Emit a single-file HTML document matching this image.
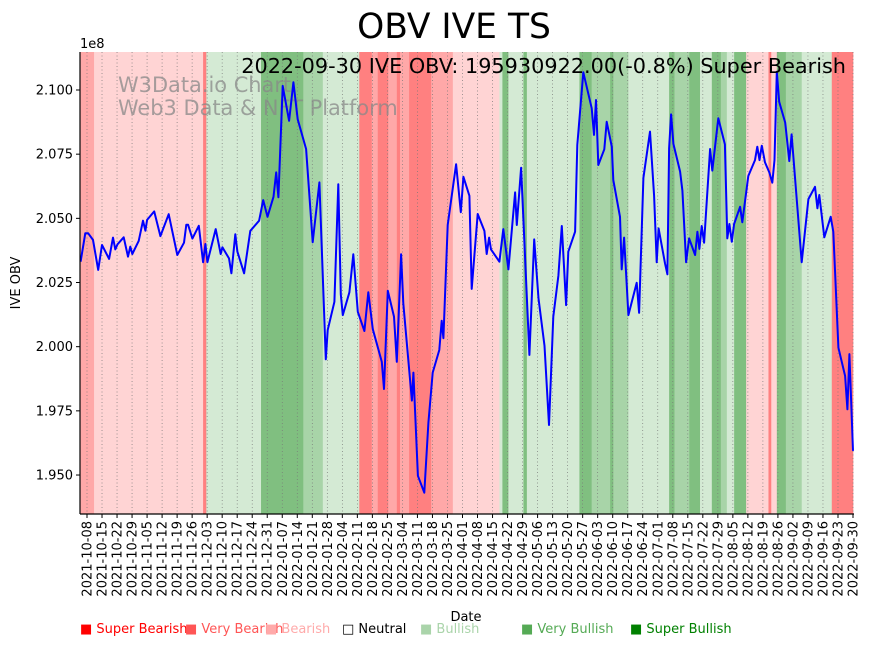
<!DOCTYPE html>
<html><head><meta charset="utf-8"><style>
body{margin:0;background:#fff;}
svg{display:block;font-family:"DejaVu Sans","Liberation Sans",sans-serif;}
</style></head><body>
<svg id="c" width="870" height="646" xmlns="http://www.w3.org/2000/svg">
<text x="454" y="38" font-size="34.5" text-anchor="middle">OBV IVE TS</text>
<g id="bands"></g>
<g id="grid"></g>
<text x="118" y="92" font-size="20.9" fill="#888" fill-opacity="0.75">W3Data.io Chart</text>
<text x="118" y="115" font-size="20.9" fill="#888" fill-opacity="0.75">Web3 Data &amp; NFT Platform</text>
<g id="line"></g>
<text x="846" y="73" font-size="20.8" text-anchor="end">2022-09-30 IVE OBV: 195930922.00(-0.8%) Super Bearish</text>
<g id="axes"></g>
<text x="80" y="48" font-size="13">1e8</text>
<text transform="translate(20,283) rotate(-90)" font-size="13" text-anchor="middle">IVE OBV</text>
<text x="466" y="621" font-size="13" text-anchor="middle">Date</text>
<g id="legend" font-size="13"></g>
</svg>
<script>
const startDate = Date.UTC(2021,9,5);
const days = [0,2.2,3.5,5.8,8.2,10.0,13.3,15.1,16.2,17.2,20.1,22.1,23.2,24.1,27.1,29.1,30.2,31.0,34.3,37.2,41.1,45.1,48.2,49.3,50.1,52.1,55.1,57.1,58.2,59.1,63.0,65.3,66.1,69.2,70.3,72.1,73.1,76.2,79.1,83.2,85.1,87.1,89.9,91.2,92.2,94.2,97.2,99.2,101.2,105.1,108.2,111.3,114.3,115.2,118.3,120.1,121.3,122.2,125.3,127.1,129.2,132.3,134.1,136.2,140.4,141.4,143.2,146.1,147.4,149.4,150.4,154.4,155.1,157.2,160.2,162.1,164.1,167.2,168.3,169.1,171.1,175.0,177.2,178.4,181.2,182.3,185.1,188.2,189.3,190.4,191.3,195.2,197.0,199.4,202.5,203.3,205.3,209.2,211.4,213.4,216.2,218.3,220.3,222.7,224.3,226.3,227.3,230.5,231.5,234.3,238.2,239.3,240.2,241.3,244.1,245.2,247.6,248.3,251.4,252.2,253.3,255.3,259.2,260.3,262.3,265.4,267.3,268.5,269.4,272.4,273.5,274.3,275.2,276.3,279.4,280.5,282.2,283.6,286.4,287.5,288.4,289.5,290.6,293.4,294.4,297.2,300.3,301.4,302.4,303.5,304.6,307.4,308.4,311.2,314.3,315.4,316.4,317.5,319.0,321.0,322.4,323.4,324.5,325.6,328.4,330.3,331.4,336.1,339.2,342.3,343.4,344.3,346.6,349.6,350.8,353.2,356.3,357.4,358.3,360];
const obv = [2.0331,2.0442,2.0442,2.0416,2.0299,2.0396,2.0342,2.0425,2.0379,2.0399,2.0426,2.0351,2.0390,2.0361,2.0412,2.0491,2.0452,2.0494,2.0527,2.0431,2.0516,2.0357,2.0405,2.0475,2.0475,2.0421,2.0471,2.0329,2.0400,2.0329,2.0458,2.0361,2.0387,2.0344,2.0286,2.0438,2.0370,2.0286,2.0451,2.0491,2.0571,2.0506,2.0584,2.0679,2.0582,2.1016,2.0880,2.1030,2.0886,2.0770,2.0407,2.0640,1.9951,2.0065,2.0175,2.0633,2.0204,2.0123,2.0212,2.0360,2.0136,2.0061,2.0212,2.0068,1.9941,1.9835,2.0218,2.0117,1.9941,2.0360,2.0169,1.9790,1.9899,1.9497,1.9431,1.9704,1.9899,1.9987,2.0101,2.0033,2.0474,2.0711,2.0524,2.0662,2.0588,2.0225,2.0517,2.0451,2.0361,2.0425,2.0379,2.0331,2.0458,2.0301,2.0601,2.0474,2.0697,1.9968,2.0418,2.0188,2.0004,1.9695,2.0117,2.0277,2.0470,2.0162,2.0370,2.0448,2.0786,2.1069,2.0929,2.0825,2.0961,2.0708,2.0769,2.0876,2.0779,2.0649,2.0506,2.0301,2.0425,2.0123,2.0249,2.0132,2.0658,2.0838,2.0588,2.0329,2.0461,2.0325,2.0282,2.0773,2.0905,2.0790,2.0682,2.0608,2.0329,2.0422,2.0357,2.0448,2.0381,2.0470,2.0405,2.0770,2.0686,2.0890,2.0788,2.0422,2.0478,2.0409,2.0478,2.0545,2.0485,2.0665,2.0727,2.0779,2.0727,2.0783,2.0718,2.0679,2.0639,2.0727,2.1071,2.0954,2.0873,2.0723,2.0827,2.0329,2.0575,2.0623,2.0539,2.0591,2.0426,2.0506,2.0448,1.9996,1.9886,1.9756,1.9971,1.9594];
const bandStart = [0,6.3,57.1,58.6,84.1,103.8,112.9,129.9,135.7,138.5,143.4,147.4,148.9,153.1,163.4,173.5,195.2,196.6,199.4,206.4,208,232.5,238.2,246.8,248.3,255.3,274.3,276.8,283.7,288.7,294.2,298.4,301.2,304.6,310.2,320.6,321.9,324.5,328.7,336.1,350.1];
const bandEnd = [6.3,57.1,58.6,84.1,103.8,112.9,129.9,135.7,138.5,143.4,147.4,148.9,153.1,163.4,173.5,195.2,196.6,199.4,206.4,208,232.5,238.2,246.8,248.3,255.3,274.3,276.8,283.7,288.7,294.2,298.4,301.2,304.6,310.2,320.6,321.9,324.5,328.7,336.1,350.1,360];
const bandSignal = ["VBear","Bear","SBear","Bull","SBull","VBull","Bull","SBear","VBear","SBear","VBear","SBear","VBear","SBear","VBear","Bear","Bull","SBull","Bull","SBull","Bull","SBull","VBull","SBull","VBull","Bull","SBull","VBull","SBull","Bull","SBull","VBull","Bull","SBull","Bear","SBear","Bear","SBull","VBull","Bull","SBear"];
const yTicks = [1.950,1.975,2.000,2.025,2.050,2.075,2.100];
const legendLabels = ["Super Bearish","Very Bearish","Bearish","Neutral","Bullish","Very Bullish","Super Bullish"];

const NS="http://www.w3.org/2000/svg";
const L=80,R=854,T=52,B=514;
const x = d => 80.56 + d*2.1457;
const y = v => 90 + (2.100 - v)/0.025*64.17;
const colors={SBear:"#ff8080",VBear:"#ffa8a8",Bear:"#ffd4d4",Bull:"#d4ead4",VBull:"#a8d4a8",SBull:"#80bf80"};
function mk(tag,attrs,parent){const e=document.createElementNS(NS,tag);for(const k in attrs)e.setAttribute(k,attrs[k]);parent.appendChild(e);return e;}
const bands=document.getElementById('bands');
bandStart.forEach((s,i)=>{
  const r=mk('rect',{x:Math.max(L,x(s)),y:T,width:Math.min(R,x(bandEnd[i]))-Math.max(L,x(s))+0.3,height:B-T,fill:colors[bandSignal[i]]},bands);
  
  
});
const grid=document.getElementById('grid'),axes=document.getElementById('axes');
for(let k=0;k<52;k++){
  const d=3+7*k, xx=x(d);
  const g=mk('line',{x1:xx,x2:xx,y1:T,y2:B,stroke:"#777","stroke-width":0.7,"stroke-dasharray":"1,2.5"},grid);
  
  
  mk('line',{x1:xx,x2:xx,y1:B,y2:B+4,stroke:"#000","stroke-width":1},axes);
  const dt=new Date(startDate+d*86400000).toISOString().slice(0,10);
  const t=mk('text',{transform:`translate(${xx+4.5},${B+7}) rotate(-90)`,"font-size":13,"text-anchor":"end"},axes);
  t.textContent=dt;
  
  
}
yTicks.forEach(v=>{
  const yy=y(v);
  mk('line',{x1:L-4,x2:L,y1:yy,y2:yy,stroke:"#000"},axes);
  const t=mk('text',{x:L-7,y:yy+4.5,"font-size":13,"text-anchor":"end"},axes);
  t.textContent=v.toFixed(3);
  
  
});
mk('line',{x1:L,x2:L,y1:T,y2:B,stroke:"#000","stroke-width":1.2},axes);
mk('line',{x1:L,x2:R,y1:B,y2:B,stroke:"#000","stroke-width":1.2},axes);
const p=mk('polyline',{points:days.map((d,i)=>x(d).toFixed(1)+","+y(obv[i]).toFixed(1)).join(" "),fill:"none",stroke:"#0000ff","stroke-width":2,"stroke-linejoin":"round"},document.getElementById('line'));


const lg=document.getElementById('legend');
const lx=[80,185,265,342,420,521,630], lc=["#ff0000","#ff5555","#ffaaaa","#000","#aad4aa","#55aa55","#008000"];
legendLabels.forEach((s,i)=>{
  const t=mk('text',{x:lx[i],y:633,fill:lc[i]},lg);
  t.textContent=(i==3?"□ ":"■ ")+s;
  
  
});
</script>
</body></html>
